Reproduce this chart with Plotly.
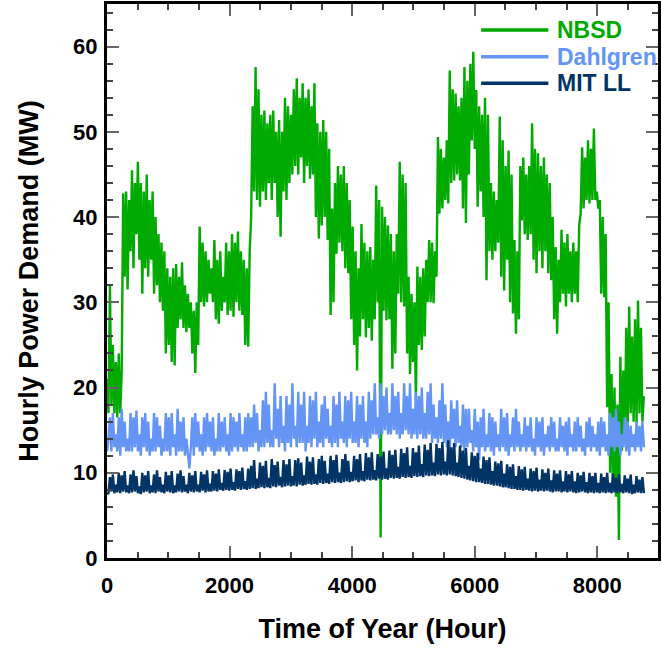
import plotly.graph_objects as go

# One sample per day (hour of year), 0 .. 8760
hours = list(range(0, 8761, 24))

nbsd = [
    21, 17, 32, 18, 25, 17, 23, 16.5, 24, 17, 22, 42.8, 33, 43,
    31.5, 42, 36, 45.5, 34, 44, 38, 46.5, 35, 44, 31, 43, 34, 45,
    33, 42, 35, 43, 31, 40, 32, 38, 30, 37, 29, 36, 24, 34,
    25, 33, 23, 34, 22.6, 34.5, 27, 33, 28, 34.7, 27, 32, 26.5, 31,
    27, 30, 24, 29, 21.7, 30, 25, 38.9, 30, 37, 29.5, 36, 30, 35,
    31, 34, 30, 37.3, 28, 35, 27.5, 36, 29, 33, 30, 37, 28.5, 36,
    29, 38, 28.3, 37, 30, 38.3, 29, 36, 28.5, 35, 25, 34, 24.8, 36,
    40, 53, 43, 57.6, 42, 55, 41.2, 52, 43, 52.5, 42, 51, 44, 52,
    42, 52.5, 44, 50, 40, 51.4, 37.7, 50, 43, 54, 42, 53, 44, 52,
    45, 55, 46, 56.3, 45, 54, 47, 55.7, 44, 54, 46, 55, 44.5, 53,
    45, 55.7, 40, 51, 37.5, 50, 39, 51.4, 40, 50, 37.3, 48, 28.5, 41,
    30, 44, 35.7, 46, 37, 45, 36, 46, 34, 44, 33.4, 42, 28, 38.9,
    25, 36, 22, 34, 26, 39.2, 28, 37, 25.9, 36, 27, 36.5, 25.5, 35,
    28, 43.7, 30, 42, 2.4, 41.2, 29, 40, 27.9, 39, 28, 38, 22.2, 36,
    24, 38, 31, 46.5, 30, 45, 29.5, 44, 24, 33, 21.6, 31, 23, 30,
    18.5, 34.2, 25, 33, 24.4, 34, 26, 35, 30, 37.3, 30, 37, 29.9, 36,
    33, 49.4, 40.4, 48, 41, 47, 42, 49, 41.6, 57.2, 44, 55, 44.3, 54.5,
    45, 53, 44.3, 54, 41, 57.6, 39.3, 56, 45, 58, 49, 59.4, 48, 54.9,
    41.2, 53, 43, 52, 40, 54, 32.6, 52, 36, 44, 35, 43, 36, 42,
    37, 51.8, 33, 49, 31.4, 46, 35, 47.8, 30, 45, 28.7, 37.3, 26.3, 36,
    28, 46, 39.6, 47, 38, 45, 37.3, 46, 38, 51, 35, 48, 33.4, 47.5,
    36, 46, 34, 47, 36, 45, 33.4, 44, 32.6, 40, 28, 36.5, 26.3, 35,
    30, 38.5, 31, 37, 29.5, 38, 31, 36, 30, 37, 31, 36, 30, 39,
    40.4, 48.2, 41, 47, 42, 49, 41.6, 48, 42, 50.4, 42, 43, 41, 42,
    31, 40, 30.6, 38, 17.7, 30, 10, 21.6, 8, 20, 7.2, 18, 2.1, 23.6,
    12.6, 22, 14, 27, 15.4, 29.5, 17, 26, 16, 28, 15.8, 30.2, 17, 27,
    16, 19,
]

dahlgren = [
    12.5, 14, 16.5, 12.5, 17, 13, 14.5, 12.5, 16.5, 12, 17.5, 13, 16, 12.5,
    14, 12.5, 17, 12.5, 16.5, 13, 17.3, 12.5, 14.5, 12, 16.5, 13, 17, 12.5,
    16, 12, 14, 12.5, 17, 12.5, 16.5, 13, 15.5, 12, 14, 12.5, 17, 12.5,
    16.5, 12, 17, 13, 14.5, 12, 17.5, 12.5, 16, 12.5, 16.5, 12, 14, 12.5,
    10.5, 13, 16.5, 12, 17, 13, 16, 12.5, 14.5, 12, 16.5, 12.5, 17, 13,
    16, 12.5, 16.5, 12, 14, 12.5, 17, 12.5, 16, 13, 16.5, 12.5, 14.5, 12,
    17, 12.5, 16.5, 13, 16, 12.5, 17, 13, 14.5, 12.5, 16.5, 12.5, 17, 13,
    16.5, 13, 18, 13.5, 17, 12.5, 15, 13, 18.5, 13, 19.5, 13.5, 18, 13,
    15, 13, 20.5, 14, 17.5, 13, 19, 13.5, 15.5, 12.5, 19, 13.5, 18, 13,
    20.5, 14, 15.5, 13, 19.5, 13.5, 18, 13.5, 19.5, 12.5, 15.5, 13.5, 19, 13,
    18.5, 14, 19.5, 13, 16, 13.5, 18, 13, 19, 14, 17.5, 13.5, 15.5, 13,
    19, 13.5, 18, 13, 19.5, 14, 16, 13.5, 19, 13, 18.5, 14, 19.5, 13.5,
    16, 13.5, 19, 13, 18, 14, 19, 13.5, 16, 13, 19.5, 14, 18.5, 14.5,
    20.5, 14.5, 16.5, 14, 20.5, 14.5, 19, 15, 20, 14.5, 17, 14.5, 20.5, 15,
    19, 14.5, 19.5, 14, 17, 14.5, 20.5, 15, 19, 14.5, 20.5, 14, 17.5, 14.5,
    19.5, 14, 19, 14.5, 20, 14, 17, 14, 19.5, 14.5, 20.5, 13.5, 18, 14,
    16.5, 13.5, 18.5, 14, 20.5, 13.5, 18, 13, 16, 12.5, 18.5, 14, 17.5, 13,
    18.5, 13.5, 15.5, 13, 18, 12.5, 17.5, 13, 17.5, 13.5, 15, 12.5, 17.5, 13,
    16, 11.5, 16.5, 13, 17.5, 12.5, 14.5, 13, 17, 12.5, 16.5, 12, 16, 13,
    14.5, 12.5, 17.5, 13, 16.5, 12.5, 17, 12, 14.5, 13, 16.5, 12.5, 17.5, 13,
    16, 12.5, 14.5, 13, 16.5, 12.5, 15.5, 13, 16.5, 12.5, 14, 12, 16.5, 13,
    16, 12.5, 16.5, 12, 14.5, 13, 15.5, 12.5, 16.5, 13, 16, 12.5, 14, 12.5,
    16.5, 13, 15.5, 12.5, 16, 12, 16.5, 13, 14.5, 12.5, 16, 12.5, 16.5, 13,
    15.5, 12.5, 14, 12, 16, 13, 16.5, 12.5, 15.5, 13, 14.5, 12.5, 16, 12,
    16.5, 13, 16, 12.5, 14.5, 12, 17, 13, 16.5, 12.5, 17.5, 13, 16, 12,
    14.5, 13, 16.5, 12.5, 16, 12, 15.5, 13, 14.5, 12.5, 16, 13, 15.5, 12.5,
    16, 13,
]

mit_ll = [
    7.5, 7.6, 9.5, 7.8, 9.8, 7.6, 8.6, 7.7, 10, 7.6, 9.7, 7.8, 10.2, 7.7,
    8.5, 7.6, 9.8, 7.7, 10.3, 7.8, 9.6, 7.6, 8.4, 7.5, 10, 7.7, 9.7, 7.8,
    10.2, 7.6, 8.5, 7.7, 9.8, 7.6, 10.3, 7.8, 9.5, 7.7, 8.6, 7.6, 10.1, 7.8,
    9.7, 7.7, 10.2, 7.6, 8.5, 7.7, 9.9, 7.8, 10.3, 7.7, 9.6, 7.8, 8.6, 7.6,
    10, 7.8, 9.7, 7.7, 10.2, 7.8, 8.6, 7.7, 10.1, 7.9, 9.8, 7.7, 10.3, 7.8,
    8.7, 7.8, 10.2, 7.9, 9.9, 7.8, 10.4, 8, 8.8, 7.9, 10.3, 8, 10.1, 7.9,
    10.5, 8, 8.9, 7.9, 10.4, 8.1, 10.2, 8, 10.6, 8.1, 9, 8, 10.5, 8.1,
    10.8, 8.2, 11.5, 8.1, 9.3, 8.2, 11.2, 8.3, 10.8, 8.2, 11.4, 8.3, 9.4, 8.2,
    11.6, 8.4, 10.9, 8.3, 11.3, 8.5, 9.5, 8.3, 11.5, 8.4, 11, 8.5, 11.6, 8.4,
    9.6, 8.5, 11.5, 8.4, 11.7, 8.6, 11.2, 8.5, 9.7, 8.6, 11.9, 8.7, 11.3, 8.6,
    11.8, 8.7, 9.8, 8.6, 11.6, 8.8, 12, 8.7, 11.4, 8.8, 9.9, 8.7, 12, 8.9,
    11.5, 8.8, 12.1, 8.9, 10, 8.8, 11.6, 8.9, 12.2, 9, 11.4, 8.9, 10.1, 9,
    12, 9.1, 11.6, 8.9, 12.2, 9.1, 10.2, 9, 12.3, 9.2, 11.8, 9.1, 12.4, 9.2,
    10.3, 9.1, 12.2, 9.3, 11.9, 9.2, 12.5, 9.3, 10.5, 9.2, 12.6, 9.4, 12.1, 9.3,
    12.7, 9.4, 10.7, 9.3, 12.8, 9.5, 12.3, 9.4, 13, 9.5, 10.8, 9.4, 12.9, 9.6,
    12.4, 9.5, 13.2, 9.6, 11, 9.5, 13.3, 9.7, 12.7, 9.6, 13.5, 9.7, 11.2, 9.6,
    13.4, 9.8, 12.9, 9.7, 13.6, 9.8, 11.3, 9.7, 13.8, 9.8, 13, 9.7, 13.5, 9.6,
    11.2, 9.5, 13.2, 9.4, 12.6, 9.3, 12.9, 9.2, 10.8, 9.1, 12.4, 9, 12, 8.9,
    12.3, 8.9, 10.5, 8.8, 11.9, 8.7, 11.5, 8.7, 11.8, 8.6, 10.2, 8.5, 11.3, 8.5,
    11.1, 8.4, 11.4, 8.3, 9.9, 8.3, 11, 8.2, 10.7, 8.1, 11, 8.1, 9.6, 8,
    10.8, 8, 10.4, 7.9, 10.7, 8, 9.3, 7.9, 10.5, 7.8, 10.2, 7.9, 10.6, 7.8,
    9.2, 7.9, 10.4, 7.8, 10, 7.9, 10.5, 7.8, 9.1, 7.7, 10.3, 7.8, 9.9, 7.8,
    10.3, 7.7, 9, 7.8, 10.2, 7.7, 9.8, 7.8, 10.2, 7.7, 9, 7.6, 10, 7.7,
    9.7, 7.8, 10.1, 7.7, 8.9, 7.6, 10, 7.7, 9.6, 7.6, 10, 7.7, 8.8, 7.6,
    9.9, 7.7, 9.5, 7.6, 10, 7.7, 8.8, 7.6, 9.9, 7.7, 9.4, 7.6, 9.8, 7.7,
    8.7, 7.6, 9.7, 7.7, 9.3, 7.6, 9.8, 7.5, 8.6, 7.6, 9.6, 7.7, 9.2, 7.6,
    9.5, 7.6,
]

series_names = ["NBSD", "Dahlgren", "MIT LL"]
series_colors = ["#00aa00", "#6495f5", "#003366"]
series_values = [nbsd, dahlgren, mit_ll]

x_ticks = [0, 2000, 4000, 6000, 8000]
y_ticks = [0, 10, 20, 30, 40, 50, 60]

FONT = "Liberation Sans, Arial, Helvetica, sans-serif"

fig = go.Figure()
for name, color, vals in zip(series_names, series_colors, series_values):
    fig.add_trace(go.Scatter(
        x=hours, y=vals, mode="lines", name=name,
        line=dict(color=color, width=2.4),
        showlegend=False,
    ))

# Legend drawn as line samples + coloured labels (paper coordinates)
legend_y = [0.953, 0.905, 0.857]
annotations = []
shapes = []
for name, color, yy in zip(series_names, series_colors, legend_y):
    shapes.append(dict(type="line", xref="paper", yref="paper",
                       x0=0.679, x1=0.801, y0=yy, y1=yy,
                       line=dict(color=color, width=3.5)))
    annotations.append(dict(xref="paper", yref="paper", x=0.813, y=yy,
                            xanchor="left", yanchor="middle", showarrow=False,
                            text=name,
                            font=dict(family=FONT, size=23, color=color, weight="bold")))

axis_common = dict(
    showline=True, linecolor="black", linewidth=3, mirror="ticks",
    ticks="inside", tickcolor="#666666", tickwidth=2, ticklen=12,
    showgrid=False, zeroline=False,
    tickfont=dict(family=FONT, size=22, color="black", weight="bold"),
)

fig.update_xaxes(
    range=[0, 8990], tickvals=x_ticks, ticktext=[str(t) for t in x_ticks],
    minor=dict(dtick=500, tick0=0, ticks="inside", ticklen=6, tickwidth=2, tickcolor="#444444"),
    title=dict(text="Time of Year (Hour)", font=dict(family=FONT, size=27, color="black", weight="bold"), standoff=22),
    ticklabelstandoff=6,
    **axis_common,
)
fig.update_yaxes(
    range=[0, 65], tickvals=y_ticks, ticktext=[str(t) for t in y_ticks],
    minor=dict(dtick=2, tick0=0, ticks="inside", ticklen=6, tickwidth=2, tickcolor="#444444"),
    title=dict(text="Hourly Power Demand (MW)", font=dict(family=FONT, size=27, color="black", weight="bold"), standoff=27),
    ticklabelstandoff=2,
    **axis_common,
)

fig.update_layout(
    width=662, height=650,
    margin=dict(l=107, r=1, t=4, b=92),
    paper_bgcolor="white", plot_bgcolor="white",
    showlegend=False,
    shapes=shapes, annotations=annotations,
)

fig.write_html(
    "out.html",
    config={"displayModeBar": False},
    post_script="document.body.style.margin='0px';document.body.style.overflow='hidden';",
)
